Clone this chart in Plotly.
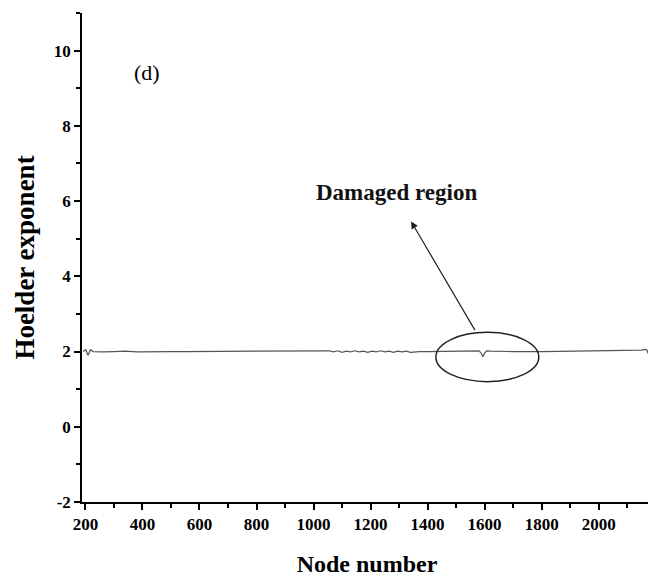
import plotly.graph_objects as go

node = [192, 201, 209, 218, 227, 260, 300, 340, 380, 420, 460, 500, 550, 600, 700, 800, 900, 1000,
        1040, 1055, 1070, 1085, 1100, 1115, 1130, 1145, 1160, 1175, 1190, 1205, 1220, 1235, 1250,
        1265, 1280, 1295, 1310, 1325, 1340, 1355, 1370, 1400, 1450, 1500, 1540, 1565, 1580, 1588,
        1594, 1600, 1607, 1620, 1650, 1700, 1800, 1900, 2000, 2060, 2100, 2130, 2150, 2160, 2168,
        2174, 2179, 2183]
holder = [2.00, 2.05, 1.90, 2.05, 2.00, 1.99, 2.00, 2.01, 1.99, 2.00, 2.00, 2.00, 2.00, 2.00, 2.00, 2.00, 2.00, 2.00,
          2.00, 2.02, 1.99, 2.02, 1.98, 2.01, 1.99, 2.02, 1.99, 2.01, 1.98, 2.01, 1.99, 2.02, 1.99,
          2.01, 1.98, 2.01, 1.99, 2.01, 1.98, 2.00, 2.00, 2.00, 2.00, 2.00, 2.01, 2.02, 2.02, 1.96,
          1.86, 1.96, 2.02, 2.01, 2.00, 2.00, 2.00, 2.01, 2.01, 2.02, 2.03, 2.04, 2.04, 2.05, 2.05,
          1.95, 2.13, 2.13]

x_ticks = [200, 400, 600, 800, 1000, 1200, 1400, 1600, 1800, 2000]
y_ticks = [-2, 0, 2, 4, 6, 8, 10]

FONT = "Liberation Serif"

fig = go.Figure()
fig.add_trace(go.Scatter(x=node, y=holder, mode="lines",
                         line=dict(color="#555555", width=1.2), showlegend=False))

axis_common = dict(
    showline=True, linecolor="black", linewidth=1.6, mirror=False, showgrid=False, zeroline=False,
    ticks="outside", ticklen=6, tickwidth=1.5, tickcolor="black", automargin=False,
    tickfont=dict(family=FONT, size=17, color="black", weight="bold"),
    minor=dict(ticks="outside", ticklen=4, tickwidth=1.5, tickcolor="black"),
)

fig.update_xaxes(range=[188, 2187], tickvals=x_ticks, ticktext=[str(v) for v in x_ticks],
                 minor_dtick=100, minor_tick0=100,
                 title=dict(text="Node number", font=dict(family=FONT, size=24, color="black", weight="bold"), standoff=24),
                 **axis_common)
fig.update_yaxes(range=[-2, 11], tickvals=y_ticks, ticktext=[str(v) for v in y_ticks],
                 minor_dtick=1, minor_tick0=1,
                 title=dict(text="Hoelder exponent", font=dict(family=FONT, size=27, color="black", weight="bold"), standoff=11),
                 **axis_common)

fig.add_shape(type="circle", xref="x", yref="y", x0=1429, x1=1790, y0=1.20, y1=2.51,
              line=dict(color="#222222", width=1.5))

fig.add_annotation(x=1342, y=5.46, ax=1569, ay=2.53, xref="x", yref="y", axref="x", ayref="y",
                   text="", showarrow=True, arrowhead=2, arrowsize=1.2, arrowwidth=1.2, arrowcolor="#222222")
fig.add_annotation(x=1292, y=6.23, xref="x", yref="y", text="Damaged region", showarrow=False,
                   font=dict(family=FONT, size=23, color="#111111", weight="bold"))
fig.add_annotation(x=416, y=9.42, xref="x", yref="y", text="(d)", showarrow=False,
                   font=dict(family=FONT, size=22, color="black"))

# page body has an 8px default margin, so the figure is 8px smaller and margins shifted
fig.update_layout(width=648, height=569, margin=dict(l=74, r=4, t=5, b=75),
                  plot_bgcolor="white", paper_bgcolor="white")

fig.write_html("out.html")
